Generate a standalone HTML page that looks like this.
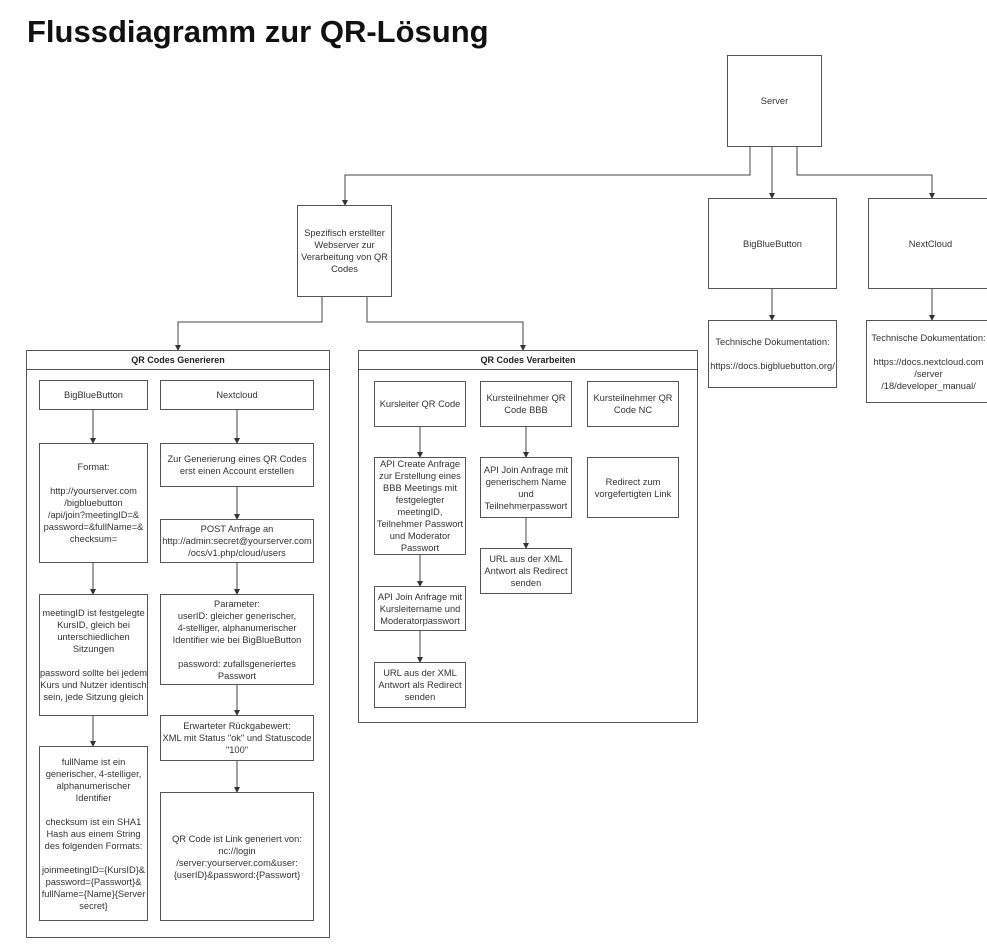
<!DOCTYPE html>
<html><head><meta charset="utf-8"><style>
body{margin:0;width:987px;height:948px;background:#fff;position:relative;overflow:hidden;font-family:"Liberation Sans",sans-serif;}
h1{position:absolute;left:27px;top:14px;margin:0;font-size:31px;font-weight:bold;color:#111;}
.b{position:absolute;border:1px solid #555;box-sizing:border-box;display:flex;align-items:center;justify-content:center;text-align:center;font-size:9.3px;line-height:12px;color:#333;background:#fff;}
.c{position:absolute;border:1px solid #555;box-sizing:border-box;}
.h{position:absolute;left:0;right:0;top:0;height:18px;border-bottom:1px solid #555;font-size:9px;font-weight:bold;display:flex;align-items:center;justify-content:center;color:#222;}
svg{position:absolute;left:0;top:0;}
</style></head><body>
<h1>Flussdiagramm zur QR-Lösung</h1>
<svg width="987" height="948"><defs><marker id="a" markerWidth="6" markerHeight="6" refX="5" refY="3" orient="auto"><path d="M0,0L6,3L0,6z" fill="#333"/></marker></defs>
<g stroke="#444" fill="none" stroke-width="1" marker-end="url(#a)">
<path d="M750,147V175H345V205"/><path d="M772,147V198"/><path d="M797,147V175H932V198"/>
<path d="M322,297V322H178V350"/><path d="M367,297V322H523V350"/>
<path d="M772,289V320"/><path d="M932,289V320"/>
<path d="M93,410V443"/><path d="M93,563V594"/><path d="M93,716V746"/>
<path d="M237,410V443"/><path d="M237,487V519"/><path d="M237,563V594"/><path d="M237,685V715"/><path d="M237,761V792"/>
<path d="M420,427V457"/><path d="M420,555V586"/><path d="M420,631V662"/>
<path d="M526,427V457"/><path d="M526,518V548"/>
</g></svg>
<div class="b" style="left:727px;top:55px;width:95px;height:92px">Server</div>
<div class="b" style="left:297px;top:205px;width:95px;height:92px">Spezifisch erstellter Webserver zur Verarbeitung von QR Codes</div>
<div class="b" style="left:708px;top:198px;width:129px;height:91px">BigBlueButton</div>
<div class="b" style="left:868px;top:198px;width:125px;height:91px">NextCloud</div>
<div class="b" style="left:708px;top:320px;width:129px;height:68px">Technische Dokumentation:<br><br>https://docs.bigbluebutton.org/</div>
<div class="b" style="left:866px;top:320px;width:125px;height:83px">Technische Dokumentation:<br><br>https://docs.nextcloud.com<br>/server<br>/18/developer_manual/</div>
<div class="c" style="left:26px;top:350px;width:304px;height:588px"><div class="h">QR Codes Generieren</div></div>
<div class="c" style="left:358px;top:350px;width:340px;height:373px"><div class="h">QR Codes Verarbeiten</div></div>
<div class="b" style="left:39px;top:380px;width:109px;height:30px">BigBlueButton</div>
<div class="b" style="left:160px;top:380px;width:154px;height:30px">Nextcloud</div>
<div class="b" style="left:39px;top:443px;width:109px;height:120px">Format:<br><br>http://yourserver.com<br>/bigbluebutton<br>/api/join?meetingID=&amp;<br>password=&amp;fullName=&amp;<br>checksum=</div>
<div class="b" style="left:160px;top:443px;width:154px;height:44px">Zur Generierung eines QR Codes<br>erst einen Account erstellen</div>
<div class="b" style="left:160px;top:519px;width:154px;height:44px">POST Anfrage an<br>http://admin:secret@yourserver.com<br>/ocs/v1.php/cloud/users</div>
<div class="b" style="left:39px;top:594px;width:109px;height:122px">meetingID ist festgelegte KursID, gleich bei unterschiedlichen Sitzungen<br><br>password sollte bei jedem Kurs und Nutzer identisch sein, jede Sitzung gleich</div>
<div class="b" style="left:160px;top:594px;width:154px;height:91px">Parameter:<br>userID: gleicher generischer,<br>4-stelliger, alphanumerischer<br>Identifier wie bei BigBlueButton<br><br>password: zufallsgeneriertes Passwort</div>
<div class="b" style="left:39px;top:746px;width:109px;height:175px">fullName ist ein generischer, 4-stelliger, alphanumerischer Identifier<br><br>checksum ist ein SHA1 Hash aus einem String des folgenden Formats:<br><br>joinmeetingID={KursID}&amp;<br>password={Passwort}&amp;<br>fullName={Name}{Server secret}</div>
<div class="b" style="left:160px;top:715px;width:154px;height:46px">Erwarteter Rückgabewert:<br>XML mit Status "ok" und Statuscode "100"</div>
<div class="b" style="left:160px;top:792px;width:154px;height:129px">QR Code ist Link generiert von:<br>nc://login<br>/server:yourserver.com&amp;user:<br>{userID}&amp;password:{Passwort}</div>
<div class="b" style="left:374px;top:381px;width:92px;height:46px">Kursleiter QR Code</div>
<div class="b" style="left:374px;top:457px;width:92px;height:98px">API Create Anfrage zur Erstellung eines BBB Meetings mit festgelegter meetingID, Teilnehmer Passwort und Moderator Passwort</div>
<div class="b" style="left:374px;top:586px;width:92px;height:45px">API Join Anfrage mit Kursleitername und Moderatorpasswort</div>
<div class="b" style="left:374px;top:662px;width:92px;height:46px">URL aus der XML Antwort als Redirect senden</div>
<div class="b" style="left:480px;top:381px;width:92px;height:46px">Kursteilnehmer QR Code BBB</div>
<div class="b" style="left:480px;top:457px;width:92px;height:61px">API Join Anfrage mit generischem Name und Teilnehmerpasswort</div>
<div class="b" style="left:480px;top:548px;width:92px;height:46px">URL aus der XML Antwort als Redirect senden</div>
<div class="b" style="left:587px;top:381px;width:92px;height:46px">Kursteilnehmer QR Code NC</div>
<div class="b" style="left:587px;top:457px;width:92px;height:61px">Redirect zum vorgefertigten Link</div>
</body></html>
